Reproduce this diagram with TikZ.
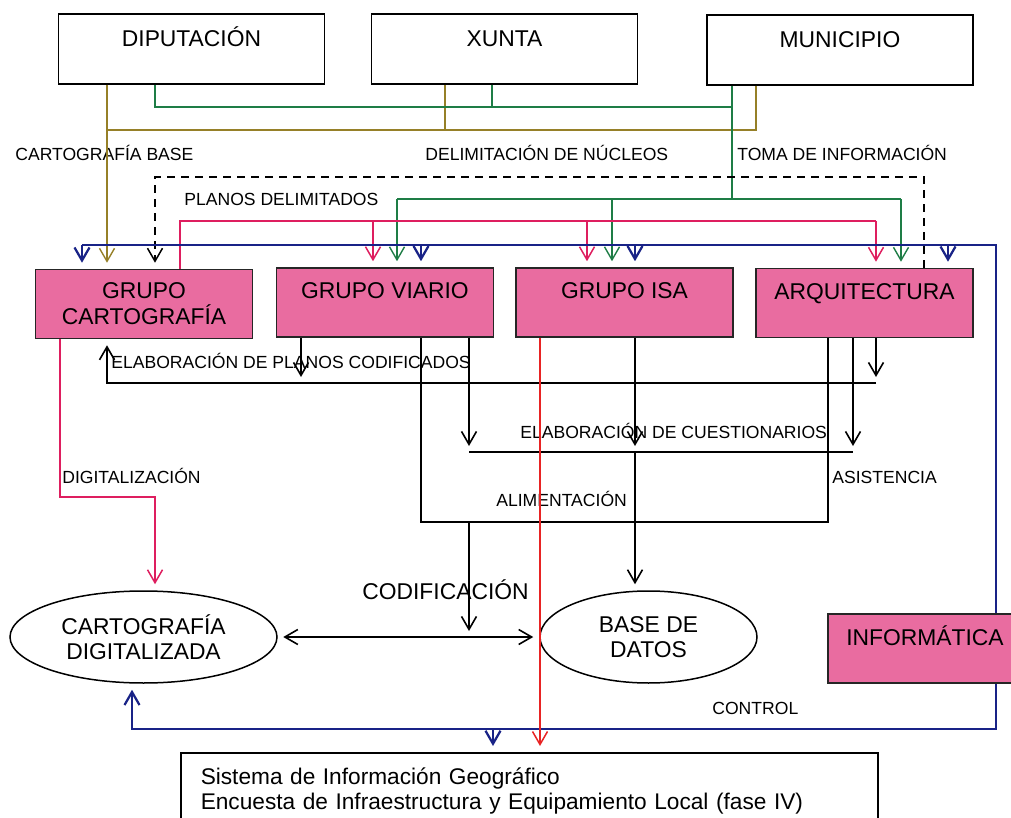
\documentclass[tikz,border=0pt]{standalone}
\usepackage{fontspec}
\setmainfont{Liberation Sans}
\usetikzlibrary{shapes.geometric, arrows.meta}
\definecolor{rosa}{RGB}{233,108,160}
\definecolor{oliva}{RGB}{150,128,40}
\definecolor{verde}{RGB}{30,125,70}
\definecolor{marino}{RGB}{25,35,135}
\definecolor{carmin}{RGB}{222,30,95}
\definecolor{rojo}{RGB}{232,35,35}
\tikzstyle{organo} = [rectangle, draw, line width=0.3mm, minimum width=53.2mm, inner sep=0pt, text height=6.6mm, text depth=7.4mm, font=\fontsize{13}{15.6}\selectfont]
\tikzstyle{grupo} = [rectangle, draw=black!85, fill=rosa, line width=0.3mm, minimum width=43.4mm, minimum height=13.8mm, inner sep=0pt, align=center, font=\fontsize{13}{14.8}\selectfont]
\tikzstyle{arriba} = [text height=6.2mm, text depth=7.6mm]
\tikzstyle{dato} = [ellipse, draw, line width=0.3mm, minimum height=18.4mm, inner sep=0pt, align=center, font=\fontsize{13}{14.2}\selectfont]
\tikzstyle{sistema} = [rectangle, draw, line width=0.3mm, anchor=north west, text width=131.4mm, inner xsep=4mm, inner ysep=3mm, align=left, font=\fontsize{12.9}{14.2}\selectfont]
\tikzstyle{etiq} = [anchor=base west, inner sep=0pt, font=\fontsize{10}{12}\selectfont]
\tikzstyle{flecha} = [->, >={Straight Barb[length=2.6mm,width=3mm]}, shorten >=1.2mm]
\tikzstyle{base} = [draw=oliva, line width=0.28mm]
\tikzstyle{deli} = [draw=verde, line width=0.28mm]
\tikzstyle{plano} = [draw=black, line width=0.3mm, dash pattern=on 1.6mm off 1.2mm]
\tikzstyle{planrojo} = [draw=carmin, line width=0.3mm]
\tikzstyle{ctrl} = [draw=marino, line width=0.45mm]
\tikzstyle{isa} = [draw=rojo, line width=0.3mm]
\tikzstyle{flujo} = [draw=black, line width=0.32mm]

\begin{document}
\begin{tikzpicture}[x=0.2mm, y=-0.2mm]
  \useasboundingbox (0,0) rectangle (1011,818);
  \clip (0,0) rectangle (1011,818);

  % 机构
  \node[organo] (dip) at (191.5,49) {DIPUTACIÓN};
  \node[organo] (xun) at (504.5,49) {XUNTA};
  \node[organo] (mun) at (840,50) {MUNICIPIO};

  % 工作组
  \node[grupo] (gcar) at (144,304) {GRUPO\\CARTOGRAFÍA};
  \node[grupo, arriba] (gvia) at (385,302.5) {GRUPO VIARIO};
  \node[grupo, arriba] (gisa) at (624.5,302.5) {GRUPO ISA};
  \node[grupo, arriba] (arq) at (864.5,303) {ARQUITECTURA};
  \node[grupo, arriba, minimum width=38.8mm] (info) at (925,648.5) {INFORMÁTICA};

  % 成果
  \node[dato, minimum width=53.4mm] (cdig) at (143.5,637) {CARTOGRAFÍA\\DIGITALIZADA};
  \node[dato, minimum width=43.4mm] (bdat) at (648.5,637) {BASE DE\\DATOS};
  \node[sistema] (sig) at (180,752) {Sistema de Información Geográfico\\Encuesta de Infraestructura y Equipamiento Local (fase IV)};

  % 标签
  \node[etiq] (lcb) at (15,161) {CARTOGRAFÍA BASE};
  \node[etiq] (ldn) at (425,161) {DELIMITACIÓN DE NÚCLEOS};
  \node[etiq] (lti) at (737,161) {TOMA DE INFORMACIÓN};
  \node[etiq] (lpd) at (184,206) {PLANOS DELIMITADOS};
  \node[etiq] (lpc) at (111,368) {ELABORACIÓN DE PLANOS CODIFICADOS};
  \node[etiq] (lcu) at (520,438) {ELABORACIÓN DE CUESTIONARIOS};
  \node[etiq] (ldg) at (62,483) {DIGITALIZACIÓN};
  \node[etiq] (las) at (832,483) {ASISTENCIA};
  \node[etiq] (lal) at (496,506) {ALIMENTACIÓN};
  \node[etiq, font=\fontsize{13}{15}\selectfont] (lco) at (362,599) {CODIFICACIÓN};
  \node[etiq] (lct) at (712,714) {CONTROL};

  % 折点
  \coordinate (o1) at (107,130);
  \coordinate (o2) at (445,130);
  \coordinate (o3) at (756,130);
  \coordinate (v1) at (155,107);
  \coordinate (v2) at (492,107);
  \coordinate (v3) at (732,107);
  \coordinate (v4) at (732,199);
  \coordinate (v5) at (397,199);
  \coordinate (v6) at (612,199);
  \coordinate (v7) at (901,199);
  \coordinate (d1) at (155,177);
  \coordinate (d2) at (924,177);
  \coordinate (p1) at (180,221);
  \coordinate (p2) at (373,221);
  \coordinate (p3) at (587,221);
  \coordinate (p4) at (876,221);
  \coordinate (c1) at (82,245);
  \coordinate (c2) at (421,245);
  \coordinate (c3) at (635,245);
  \coordinate (c4) at (948,245);
  \coordinate (c5) at (996,245);
  \coordinate (c6) at (996,729);
  \coordinate (c7) at (493,729);
  \coordinate (c8) at (132,729);
  \coordinate (r1) at (540,729);
  \coordinate (e1) at (107,383);
  \coordinate (e2) at (301,383);
  \coordinate (e3) at (876,383);
  \coordinate (q1) at (469,452);
  \coordinate (q2) at (635,452);
  \coordinate (q3) at (853,452);
  \coordinate (a1) at (421,522);
  \coordinate (a2) at (469,522);
  \coordinate (a3) at (828,522);
  \coordinate (k1) at (469,637);
  \coordinate (g1) at (60,497);
  \coordinate (g2) at (155,497);

  % 基础制图
  \draw[base, flecha] (dip.south -| o1) -- (gcar.north -| o1);
  \draw[base] (xun.south -| o2) -- (o2);
  \draw[base] (mun.south -| o3) -- (o3) -- (o1);

  % 核心划定 / 信息采集
  \draw[deli] (dip.south -| v1) -- (v1) -- (v3);
  \draw[deli] (xun.south -| v2) -- (v2);
  \draw[deli] (mun.south -| v3) -- (v4);
  \draw[deli] (v5) -- (v7);
  \draw[deli, flecha] (v5) -- (gvia.north -| v5);
  \draw[deli, flecha] (v6) -- (gisa.north -| v6);
  \draw[deli, flecha] (v7) -- (arq.north -| v7);

  % 划定图
  \draw[plano, flecha] (arq.north -| d2) -- (d2) -- (d1) -- (gcar.north -| d1);
  \draw[planrojo] (gcar.north -| p1) -- (p1) -- (p4);
  \draw[planrojo, flecha] (p2) -- (gvia.north -| p2);
  \draw[planrojo, flecha] (p3) -- (gisa.north -| p3);
  \draw[planrojo, flecha] (p4) -- (arq.north -| p4);

  % 控制
  \draw[ctrl] (info.north -| c5) -- (c5) -- (c1);
  \draw[ctrl, flecha] (c1) -- (gcar.north -| c1);
  \draw[ctrl, flecha] (c2) -- (gvia.north -| c2);
  \draw[ctrl, flecha] (c3) -- (gisa.north -| c3);
  \draw[ctrl, flecha] (c4) -- (arq.north -| c4);
  \draw[ctrl, flecha] (info.south -| c6) -- (c6) -- (c8) -- (cdig.south -| c8);
  \draw[ctrl, flecha] (c7) -- (sig.north -| c7);

  % 编码图
  \draw[flujo, flecha] (e3) -- (e1) -- (gcar.south -| e1);
  \draw[flujo, flecha] (arq.south -| e3) -- (e3);
  \draw[flujo, flecha] (gvia.south -| e2) -- (e2);

  % 问卷
  \draw[flujo] (q1) -- (q3);
  \draw[flujo, flecha] (gvia.south -| q1) -- (q1);
  \draw[flujo, flecha] (gisa.south -| q2) -- (q2);
  \draw[flujo, flecha] (arq.south -| q3) -- (q3);
  \draw[flujo, flecha] (q2) -- (bdat.north -| q2);

  % 录入 / 编码
  \draw[flujo] (gvia.south -| a1) -- (a1) -- (a3) -- (arq.south -| a3);
  \draw[flujo, flecha] (a2) -- (k1);
  \draw[flujo, flecha, <->, shorten <=1.1mm] (cdig.east) -- (bdat.west);

  % 数字化
  \draw[planrojo, flecha] (gcar.south -| g1) -- (g1) -- (g2) -- (cdig.north -| g2);

  % 系统
  \draw[isa, flecha] (gisa.south -| r1) -- (sig.north -| r1);
\end{tikzpicture}
\end{document}
